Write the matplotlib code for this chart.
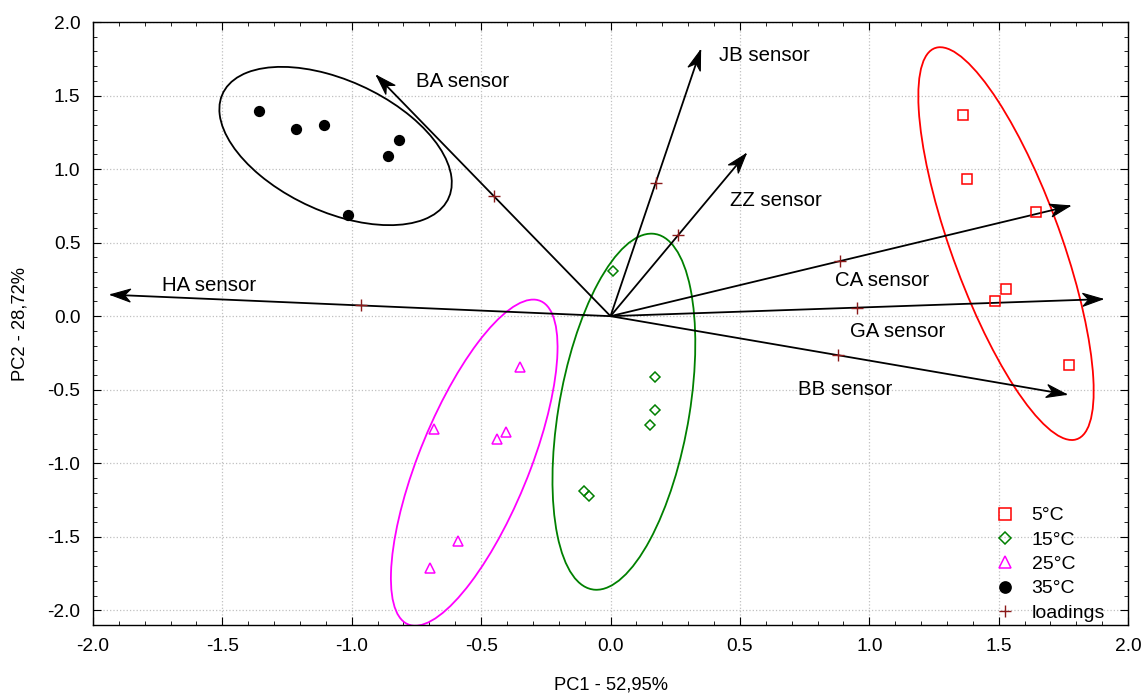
import numpy as np
import matplotlib
matplotlib.use("Agg")
import matplotlib.pyplot as plt
from matplotlib.patches import Ellipse, Polygon
from matplotlib.ticker import MultipleLocator, FormatStrFormatter
from matplotlib.transforms import IdentityTransform

plt.rcParams['font.family'] = ['Liberation Sans', 'DejaVu Sans']

# PCA scores for each storage temperature
t5_x = [1.364, 1.376, 1.645, 1.530, 1.484, 1.771]
t5_y = [1.365, 0.934, 0.711, 0.184, 0.100, -0.334]
t15_x = [0.008, 0.170, 0.170, 0.151, -0.104, -0.085]
t15_y = [0.307, -0.416, -0.640, -0.743, -1.186, -1.220]
t25_x = [-0.348, -0.684, -0.403, -0.439, -0.589, -0.697]
t25_y = [-0.347, -0.768, -0.790, -0.833, -1.528, -1.710]
t35_x = [-1.360, -1.217, -1.109, -0.817, -0.858, -1.014]
t35_y = [1.395, 1.270, 1.302, 1.195, 1.090, 0.690]

# sensor loadings (arrows are drawn at twice the loading)
sensors = ['JB sensor', 'ZZ sensor', 'BA sensor', 'HA sensor', 'CA sensor', 'GA sensor', 'BB sensor']
load_x = [0.174, 0.262, -0.452, -0.966, 0.888, 0.951, 0.881]
load_y = [0.904, 0.552, 0.818, 0.073, 0.375, 0.058, -0.266]
arrow_scale = 2.0

# where the sensor names sit
label_pos = {
    'JB sensor': (0.421, 1.772),
    'ZZ sensor': (0.460, 0.784),
    'BA sensor': (-0.750, 1.595),
    'HA sensor': (-1.735, 0.211),
    'CA sensor': (0.866, 0.245),
    'GA sensor': (0.924, -0.102),
    'BB sensor': (0.723, -0.497),
}


def conf_ellipse(ax, x, y, color, p=0.90):
    """Covariance ellipse of a group, chi-square scaled (2 dof)."""
    x = np.asarray(x)
    y = np.asarray(y)
    cov = np.cov(x, y)
    vals, vecs = np.linalg.eigh(cov)
    k2 = -2.0 * np.log(1.0 - p)
    angle = np.degrees(np.arctan2(vecs[1, 1], vecs[0, 1]))
    e = Ellipse((x.mean(), y.mean()), 2 * np.sqrt(k2 * vals[1]), 2 * np.sqrt(k2 * vals[0]),
                angle=angle, fill=False, edgecolor=color, linewidth=1.3, zorder=2)
    ax.add_patch(e)


def stealth_head(ax, tip, length=20, half_width=6.5, notch=0.7):
    """Notched arrow head drawn in pixel space so it keeps its shape."""
    p0 = ax.transData.transform((0, 0))
    p1 = ax.transData.transform(tip)
    d = (p1 - p0) / np.hypot(*(p1 - p0))
    n = np.array([-d[1], d[0]])
    verts = [p1, p1 - length * d + half_width * n, p1 - notch * length * d,
             p1 - length * d - half_width * n]
    ax.add_patch(Polygon(verts, closed=True, transform=IdentityTransform(),
                         facecolor='black', edgecolor='black', linewidth=0.8, zorder=3))


fig = plt.figure(figsize=(11.45, 6.95), dpi=100)
ax = fig.add_axes([0.0812, 0.1007, 0.904, 0.8676])
ax.set_xlim(-2.0, 2.0)
ax.set_ylim(-2.1, 2.0)

groups = [
    (t5_x, t5_y, 's', '#ff0000', 'none', '5°C', 7),
    (t15_x, t15_y, 'D', '#008000', 'none', '15°C', 5.5),
    (t25_x, t25_y, '^', '#ff00ff', 'none', '25°C', 7.5),
    (t35_x, t35_y, 'o', '#000000', '#000000', '35°C', 7),
]
for gx, gy, m, c, fc, lab, ms in groups:
    ax.plot(gx, gy, linestyle='none', marker=m, markersize=ms, markeredgecolor=c,
            markerfacecolor=fc, markeredgewidth=1.1, label=lab, zorder=4)
    conf_ellipse(ax, gx, gy, c)

# loading vectors
for name, lx, ly in zip(sensors, load_x, load_y):
    tip = (lx * arrow_scale, ly * arrow_scale)
    ax.plot([0, tip[0]], [0, tip[1]], color='black', linewidth=1.3, zorder=3,
            solid_capstyle='butt')
    stealth_head(ax, tip)
    tx, ty = label_pos[name]
    ax.text(tx, ty, name, fontsize=14.7, ha='left', va='center', zorder=5)

ax.plot(load_x, load_y, linestyle='none', marker='+', markersize=8,
        markeredgecolor='#8b1a1a', markeredgewidth=1.0, label='loadings', zorder=5)

ax.xaxis.set_major_locator(MultipleLocator(0.5))
ax.yaxis.set_major_locator(MultipleLocator(0.5))
ax.xaxis.set_minor_locator(MultipleLocator(0.1))
ax.yaxis.set_minor_locator(MultipleLocator(0.1))
ax.xaxis.set_major_formatter(FormatStrFormatter('%.1f'))
ax.yaxis.set_major_formatter(FormatStrFormatter('%.1f'))
ax.tick_params(which='both', direction='in', top=True, right=True, labelsize=13.8, pad=9)
ax.tick_params(which='major', length=6)
ax.tick_params(which='minor', length=3)
ax.grid(True, which='major', linestyle=':', color='#c0c0c0', linewidth=0.9)
ax.set_axisbelow(True)
for s in ax.spines.values():
    s.set_linewidth(1.0)

ax.set_xlabel('PC1 - 52,95%', fontsize=13.2, labelpad=16)
ax.set_ylabel('PC2 - 28,72%', fontsize=13.2, labelpad=14)

ax.legend(loc='lower left', bbox_to_anchor=(0.859, -0.017), frameon=False, fontsize=14,
          handletextpad=0.85, labelspacing=0.345, handlelength=1.0, borderpad=0.2,
          markerscale=1.15)

fig.savefig('out.png', dpi=100)
